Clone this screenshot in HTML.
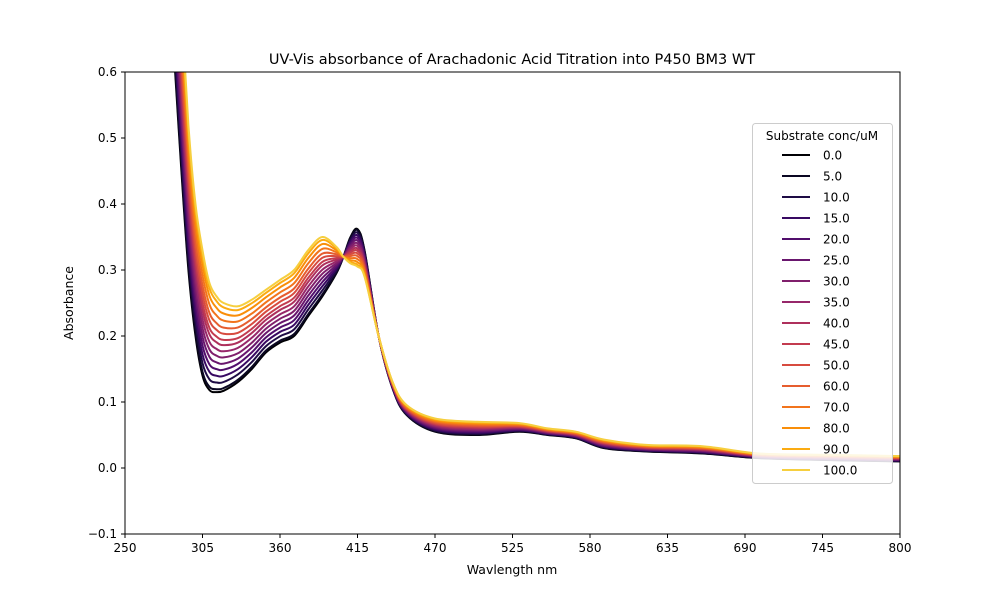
<!DOCTYPE html>
<html><head><meta charset="utf-8"><style>
body{margin:0;background:#fff;font-family:"Liberation Sans","DejaVu Sans",sans-serif}
svg text{font-family:"DejaVu Sans","Liberation Sans",sans-serif}
</style></head><body>
<svg id="chart" width="1000" height="600" xmlns="http://www.w3.org/2000/svg">
<rect width="1000" height="600" fill="#fff"/>
<text x="512" y="64" text-anchor="middle" font-size="14.5">UV-Vis absorbance of Arachadonic Acid Titration into P450 BM3 WT</text>
<defs><clipPath id="clip"><rect x="125" y="72" width="775" height="462"/></clipPath></defs>
<g id="series" clip-path="url(#clip)"></g>
<rect x="125" y="72" width="775" height="462" fill="none" stroke="#000" stroke-width="1"/>
<g id="xt"></g><g id="yt"></g>
<text x="512" y="574" text-anchor="middle" font-size="12.5">Wavlength nm</text>
<text transform="translate(73,303) rotate(-90)" text-anchor="middle" font-size="12.5">Absorbance</text>
<g id="legend"></g>
</svg>
<script>
const wavelengths=[285,290,295,300,305,310,315,320,330,340,350,360,370,380,390,400,405,410,415,420,430,440,450,470,500,530,550,570,590,620,660,700,750,800];
const absFree=[0.62,0.45,0.30,0.20,0.14,0.118,0.115,0.117,0.13,0.15,0.175,0.19,0.20,0.23,0.26,0.295,0.32,0.35,0.362,0.33,0.20,0.12,0.08,0.055,0.05,0.055,0.05,0.045,0.03,0.025,0.022,0.015,0.012,0.01];
const absBound=[0.9,0.7,0.52,0.40,0.33,0.28,0.26,0.25,0.245,0.255,0.27,0.285,0.30,0.33,0.35,0.335,0.32,0.31,0.305,0.29,0.20,0.13,0.095,0.075,0.07,0.068,0.06,0.055,0.043,0.035,0.033,0.022,0.02,0.018];
const concs=["0.0","5.0","10.0","15.0","20.0","25.0","30.0","35.0","40.0","45.0","50.0","60.0","70.0","80.0","90.0","100.0"];
const boundFraction=[0,0.03,0.1,0.17,0.24,0.31,0.38,0.45,0.52,0.58,0.65,0.72,0.8,0.88,0.95,1];
const xTicks=[250,305,360,415,470,525,580,635,690,745,800];
const yTicks=[-0.1,0.0,0.1,0.2,0.3,0.4,0.5,0.6];
const colors=["#000004","#0a0722","#1e0c45","#380962","#510e6c","#69166e","#801f6c","#97276a","#ae305c","#c33b4f","#d74b3f","#e65d2f","#f2741c","#f98e09","#fbab12","#f6cf3f"];
const NS="http://www.w3.org/2000/svg";
const X=v=>125+(v-250)/550*775, Y=v=>534-(v+0.1)/0.7*462;
function mk(t,a,p){const e=document.createElementNS(NS,t);for(const k in a)e.setAttribute(k,a[k]);p.appendChild(e);return e;}
function smooth(pts){let d='M'+pts[0][0].toFixed(1)+','+pts[0][1].toFixed(1);
 for(let i=0;i<pts.length-1;i++){const p0=pts[Math.max(0,i-1)],p1=pts[i],p2=pts[i+1],p3=pts[Math.min(pts.length-1,i+2)];
  const c1x=p1[0]+(p2[0]-p0[0])/6,c1y=p1[1]+(p2[1]-p0[1])/6,c2x=p2[0]-(p3[0]-p1[0])/6,c2y=p2[1]-(p3[1]-p1[1])/6;
  d+='C'+c1x.toFixed(1)+','+c1y.toFixed(1)+' '+c2x.toFixed(1)+','+c2y.toFixed(1)+' '+p2[0].toFixed(1)+','+p2[1].toFixed(1);}
 return d;}
const sg=document.getElementById('series');
concs.forEach((c,i)=>{const f=boundFraction[i];
 const pts=wavelengths.map((w,j)=>[X(w),Y(absFree[j]*(1-f)+absBound[j]*f)]);
 const p=mk('path',{d:smooth(pts),fill:'none',stroke:colors[i],'stroke-width':2,'stroke-linejoin':'round'},sg);
 
 });
const xt=document.getElementById('xt');
xTicks.forEach(t=>{mk('line',{x1:X(t),x2:X(t),y1:534,y2:538,stroke:'#000'},xt);
 const e=mk('text',{x:X(t),y:552,'text-anchor':'middle','font-size':12},xt);e.textContent=t;
 
 });
const yt=document.getElementById('yt');
yTicks.forEach(t=>{mk('line',{x1:121,x2:125,y1:Y(t),y2:Y(t),stroke:'#000'},yt);
 const e=mk('text',{x:117,y:Y(t)+4,'text-anchor':'end','font-size':12},yt);e.textContent=(t<0?'\u2212':'')+Math.abs(t).toFixed(1);
 
 });
const lg=document.getElementById('legend');
mk('rect',{x:752.5,y:123.5,width:140,height:360,rx:3,fill:'#fff','fill-opacity':0.85,stroke:'#ccc'},lg);
const lt=mk('text',{x:822,y:140,'text-anchor':'middle','font-size':12},lg);lt.textContent='Substrate conc/uM';
concs.forEach((c,i)=>{const y=155+i*21;
 const l=mk('line',{x1:782,x2:810,y1:y,y2:y,stroke:colors[i],'stroke-width':2},lg);
 
 
 const e=mk('text',{x:823,y:y+4.5,'font-size':12},lg);e.textContent=c;
 
 });
</script>
</body></html>
